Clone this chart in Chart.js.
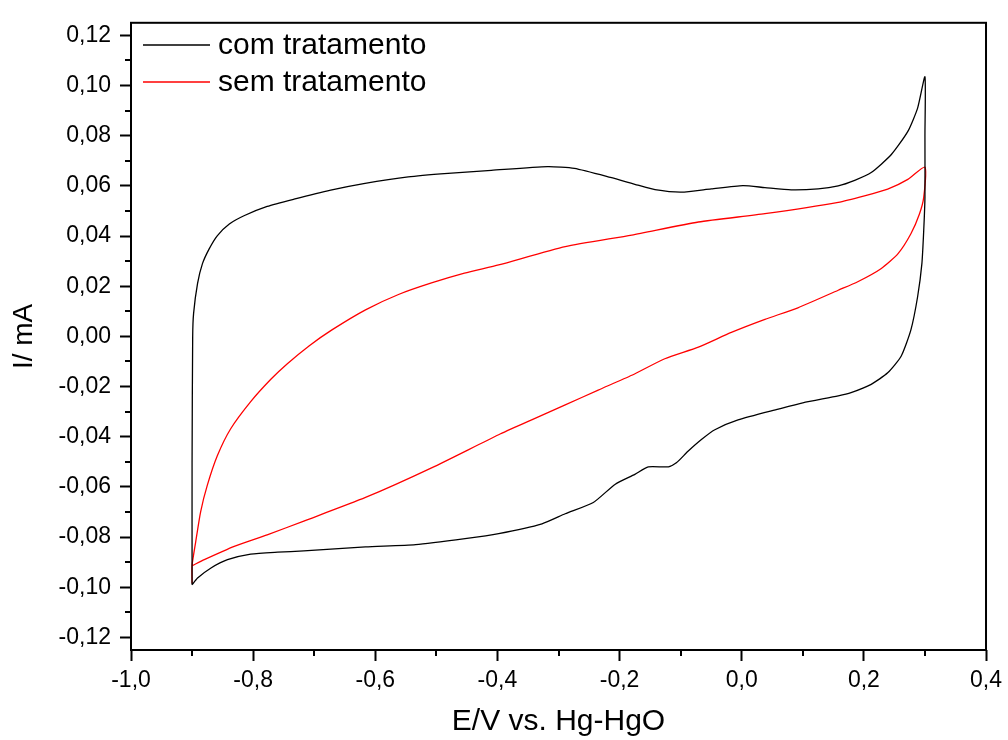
<!DOCTYPE html>
<html>
<head>
<meta charset="utf-8">
<title>Voltametria ciclica</title>
<script src="https://cdn.jsdelivr.net/npm/chart.js@4.4.1/dist/chart.umd.min.js"></script>
<style>
    body { margin: 0; background: #fff; }
    canvas { display: block; }
</style>
</head>
<body>
<canvas id="cvChart" width="1008" height="740"></canvas>
<script>
// =====================
// DATA
// =====================
// com tratamento: anodic sweep -0.9 -> 0.3 V, then back
let comE = [
    -0.900, -0.900, -0.899, -0.8975, -0.891, -0.883, -0.872, -0.8585, -0.839, -0.815,
    -0.777, -0.733, -0.673, -0.619, -0.546, -0.481, -0.410, -0.318, -0.274, -0.215,
    -0.170, -0.142, -0.099, -0.050, 0.002, 0.038, 0.081, 0.125, 0.158, 0.185,
    0.212, 0.245, 0.272, 0.288, 0.300,
    0.300, 0.300, 0.298, 0.295, 0.288, 0.277, 0.261, 0.239, 0.212, 0.179,
    0.158, 0.100, 0.060, -0.006, -0.044, -0.066, -0.088, -0.107, -0.120, -0.153,
    -0.175, -0.207, -0.243, -0.289, -0.327, -0.398, -0.453, -0.534, -0.616, -0.717,
    -0.760, -0.804, -0.842, -0.869, -0.891, -0.900
];
let comI = [
    -0.0990, -0.0500, 0.0000, 0.0092, 0.0211, 0.0290, 0.0349, 0.0402, 0.0448, 0.0481,
    0.0518, 0.0547, 0.0583, 0.0609, 0.0636, 0.0650, 0.0662, 0.0677, 0.0670, 0.0634,
    0.0603, 0.0585, 0.0575, 0.0588, 0.0601, 0.0593, 0.0584, 0.0588, 0.0600, 0.0622,
    0.0653, 0.0725, 0.0817, 0.0910, 0.1035,
    0.0800, 0.0554, 0.0422, 0.0290, 0.0158, 0.0026, -0.0079, -0.0145, -0.0191, -0.0224,
    -0.0237, -0.0265, -0.0290, -0.0333, -0.0372, -0.0411, -0.0458, -0.0504, -0.0520, -0.0520,
    -0.0550, -0.0589, -0.0662, -0.0707, -0.0747, -0.0786, -0.0806, -0.0830, -0.0839, -0.0855,
    -0.0860, -0.0868, -0.0890, -0.0923, -0.0963, -0.0990
];

// sem tratamento
let semE = [
    -0.900, -0.900, -0.894, -0.886, -0.875, -0.8585, -0.837, -0.804, -0.771, -0.744,
    -0.708, -0.671, -0.616, -0.562, -0.508, -0.454, -0.398, -0.289, -0.180, -0.071,
    0.038, 0.158, 0.201, 0.239, 0.272, 0.300,
    0.298, 0.291, 0.277, 0.256, 0.228, 0.190, 0.158, 0.092, 0.038, -0.017,
    -0.071, -0.126, -0.180, -0.235, -0.289, -0.344, -0.398, -0.507, -0.616, -0.717,
    -0.777, -0.831, -0.880, -0.899
];
let semI = [
    -0.0985, -0.0913, -0.0818, -0.0699, -0.0593, -0.0475, -0.0369, -0.0260, -0.0171, -0.0109,
    -0.0037, 0.0026, 0.0106, 0.0167, 0.0213, 0.0252, 0.0285, 0.0358, 0.0404, 0.0456,
    0.0489, 0.0534, 0.0560, 0.0587, 0.0626, 0.0675,
    0.0554, 0.0488, 0.0409, 0.0330, 0.0270, 0.0218, 0.0184, 0.0114, 0.0068, 0.0016,
    -0.0043, -0.0089, -0.0155, -0.0214, -0.0273, -0.0333, -0.0392, -0.0523, -0.0642, -0.0736,
    -0.0791, -0.0837, -0.0890, -0.0913
];

let seriesLabels = ["com tratamento", "sem tratamento"];
let seriesColors = ["#000000", "#ff0000"];

// axis ticks
let xTicks = [-1.0, -0.8, -0.6, -0.4, -0.2, 0.0, 0.2, 0.4];
let yTicks = [-0.12, -0.10, -0.08, -0.06, -0.04, -0.02, 0.00, 0.02, 0.04, 0.06, 0.08, 0.10, 0.12];

const FONT = "'Liberation Sans', Arial, sans-serif";

function toPoints(xs, ys) {
    return xs.map((v, i) => ({ x: v, y: ys[i] }));
}

function midpoints(arr) {
    return arr.slice(1).map((v, i) => (v + arr[i]) / 2);
}

function comma(v, digits) {
    return v.toFixed(digits).replace(".", ",");
}

// =====================
// FRAME, MINOR TICKS, LEGEND
// =====================
const framePlugin = {
    id: "frame",
    afterDraw(chart) {
        let ctx = chart.ctx;
        let a = chart.chartArea;
        let x = chart.scales.x;
        let y = chart.scales.y;

        ctx.save();
        ctx.strokeStyle = "#000";
        ctx.lineWidth = 2;
        ctx.strokeRect(a.left, a.top, a.right - a.left, a.bottom - a.top);

        // minor ticks
        ctx.beginPath();
        midpoints(xTicks).forEach(v => {
            let px = Math.round(x.getPixelForValue(v));
            ctx.moveTo(px, a.bottom);
            ctx.lineTo(px, a.bottom + 6);
        });
        midpoints(yTicks).forEach(v => {
            let py = Math.round(y.getPixelForValue(v));
            ctx.moveTo(a.left, py);
            ctx.lineTo(a.left - 6, py);
        });
        ctx.stroke();

        // legend
        ctx.font = "30px " + FONT;
        ctx.textBaseline = "middle";
        ctx.fillStyle = "#000";
        chart.data.datasets.forEach((ds, i) => {
            let ly = 45 + i * 37;
            ctx.strokeStyle = ds.borderColor;
            ctx.lineWidth = 1.3;
            ctx.beginPath();
            ctx.moveTo(143, ly);
            ctx.lineTo(210, ly);
            ctx.stroke();
            ctx.fillText(ds.label, 218, ly + 1);
        });
        ctx.restore();
    }
};

// =====================
// CHART
// =====================
let cvChart = new Chart(document.getElementById("cvChart"), {
    type: "scatter",
    data: {
        datasets: [
            {
                label: seriesLabels[0],
                data: toPoints(comE, comI),
                borderColor: seriesColors[0],
                borderWidth: 1.3,
                showLine: true,
                pointRadius: 0,
                tension: 0.2
            },
            {
                label: seriesLabels[1],
                data: toPoints(semE, semI),
                borderColor: seriesColors[1],
                borderWidth: 1.3,
                showLine: true,
                pointRadius: 0,
                tension: 0.2
            }
        ]
    },
    options: {
        responsive: false,
        animation: false,
        layout: { padding: { top: 17, right: 20, left: 0, bottom: 0 } },
        plugins: {
            legend: { display: false },
            tooltip: { enabled: false }
        },
        scales: {
            x: {
                type: "linear",
                min: -1.0,
                max: 0.4,
                afterBuildTicks: scale => { scale.ticks = xTicks.map(v => ({ value: v })); },
                afterFit: scale => { scale.height = 90; },
                grid: {
                    drawOnChartArea: false,
                    tickLength: 11,
                    tickWidth: 2,
                    tickColor: "#000"
                },
                border: { display: false },
                ticks: {
                    color: "#000",
                    padding: 6,
                    maxRotation: 0,
                    font: { family: FONT, size: 23 },
                    callback: v => comma(v, 1)
                },
                title: {
                    display: true,
                    text: "E/V vs. Hg-HgO",
                    color: "#000",
                    padding: 0,
                    font: { family: FONT, size: 30 }
                }
            },
            y: {
                type: "linear",
                min: -0.125,
                max: 0.125,
                afterBuildTicks: scale => { scale.ticks = yTicks.map(v => ({ value: v })); },
                afterFit: scale => { scale.width = 131; },
                grid: {
                    drawOnChartArea: false,
                    tickLength: 11,
                    tickWidth: 2,
                    tickColor: "#000"
                },
                border: { display: false },
                ticks: {
                    color: "#000",
                    padding: 9,
                    font: { family: FONT, size: 23 },
                    callback: v => comma(v, 2)
                },
                title: {
                    display: true,
                    text: "I/ mA",
                    color: "#000",
                    padding: { top: 7, bottom: 0 },
                    font: { family: FONT, size: 28 }
                }
            }
        }
    },
    plugins: [framePlugin]
});
</script>
</body>
</html>
